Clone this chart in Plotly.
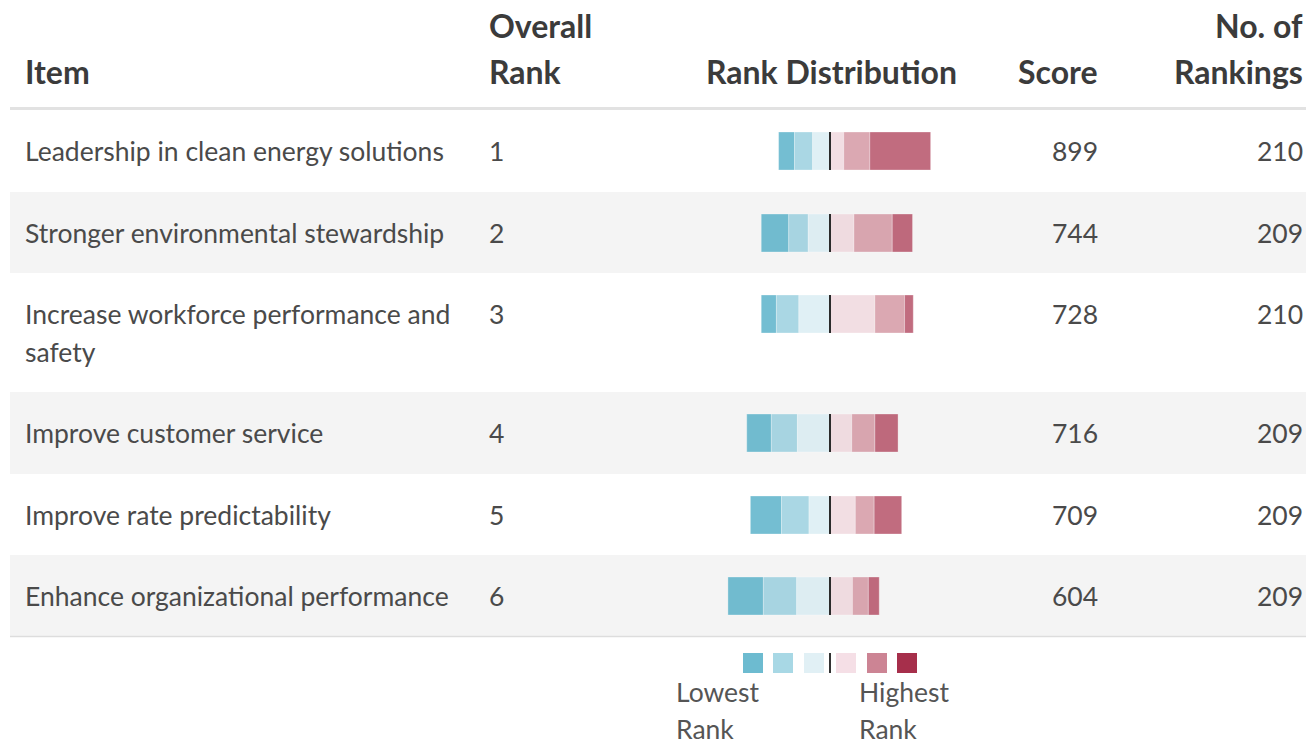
import plotly.graph_objects as go
import numpy as np

# ---------------- data ----------------
items = [
    ["Leadership in clean energy solutions"],
    ["Stronger environmental stewardship"],
    ["Increase workforce performance and", "safety"],
    ["Improve customer service"],
    ["Improve rate predictability"],
    ["Enhance organizational performance"],
]
overall_rank = [1, 2, 3, 4, 5, 6]
scores = [899, 744, 728, 716, 709, 604]
n_rankings = [210, 209, 210, 209, 209, 209]

# counts per rank level, from lowest rank to highest rank
rank_lowest = [22, 38, 21, 34, 43, 49]
rank_5th = [25, 27, 31, 36, 38, 46]
rank_4th = [24, 30, 43, 45, 29, 46]
rank_3rd = [19, 33, 62, 30, 35, 31]
rank_2nd = [36, 53, 41, 32, 26, 22]
rank_highest = [84, 28, 12, 32, 38, 15]

headers = {
    "item": ["Item"],
    "rank": ["Overall", "Rank"],
    "dist": ["Rank Distribution"],
    "score": ["Score"],
    "n": ["No. of", "Rankings"],
}
legend_low = ["Lowest", "Rank"]
legend_high = ["Highest", "Rank"]

# ---------------- layout constants ----------------
W, H = 1306, 744
CENTER_PX = 830.0
PX_PER_COUNT = 0.724
row_heights = [82, 81, 119, 82, 81, 81]
TABLE_TOP = 110
BAR_H = 38
FONT = "Lato, 'Open Sans', sans-serif"
BODY_COLOR = "#4a4a4a"
HEAD_COLOR = "#3b3b3b"
BODY_SIZE = 26.5
HEAD_SIZE = 32
PAD = 2  # annotation inner padding compensation

bar_colors = [
    "rgba(70,168,195,0.75)",
    "rgba(142,202,219,0.75)",
    "rgba(214,235,242,0.75)",
    "rgba(238,211,218,0.75)",
    "rgba(207,139,152,0.75)",
    "rgba(172,59,84,0.75)",
]
legend_colors = ["#6dbbd0", "#a8d8e5", "#e1f0f5", "#f5dfe6", "#cc8494", "#a62f4b"]

row_tops = TABLE_TOP + np.concatenate([[0], np.cumsum(row_heights)[:-1]])
row_bottoms = row_tops + np.array(row_heights)
row_centers = row_tops + 41

levels = np.array([rank_lowest, rank_5th, rank_4th, rank_3rd, rank_2nd, rank_highest], dtype=float)
left_total = levels[:3].sum(axis=0)
bases = -left_total + np.vstack([np.zeros(levels.shape[1]), np.cumsum(levels, axis=0)[:-1]])

fig = go.Figure()
for k in range(6):
    fig.add_trace(go.Bar(
        orientation="h",
        x=levels[k],
        base=bases[k],
        y=row_centers,
        width=BAR_H,
        marker=dict(color=bar_colors[k], line=dict(color="rgba(255,255,255,0.3)", width=1)),
        showlegend=False,
        hoverinfo="skip",
    ))

shapes = []
# row backgrounds
for i in range(len(items)):
    if i % 2 == 1:
        shapes.append(dict(type="rect", xref="paper", yref="y", x0=10 / W, x1=1, y0=row_tops[i], y1=row_bottoms[i],
                           fillcolor="#f4f4f4", line=dict(width=0), layer="below"))
# header line and bottom line
shapes.append(dict(type="line", xref="paper", yref="y", x0=10 / W, x1=1, y0=108.5, y1=108.5,
                   line=dict(color="#e2e2e2", width=3)))
shapes.append(dict(type="line", xref="paper", yref="y", x0=10 / W, x1=1, y0=636.5, y1=636.5,
                   line=dict(color="#dddddd", width=1.5)))
# center lines of bars
for c in row_centers:
    shapes.append(dict(type="line", xref="x", yref="y", x0=0, x1=0, y0=c - BAR_H / 2, y1=c + BAR_H / 2,
                       line=dict(color="#2b2b2b", width=2)))

# legend squares
leg_x = [743, 773, 804, 836, 867, 897]
for xx, col in zip(leg_x, legend_colors):
    shapes.append(dict(type="rect", xref="paper", yref="y", x0=xx / W, x1=(xx + 20) / W, y0=653, y1=673,
                       fillcolor=col, line=dict(width=0)))
shapes.append(dict(type="line", xref="paper", yref="y", x0=830 / W, x1=830 / W, y0=653, y1=673,
                   line=dict(color="#333333", width=2)))

ann = []


def txt(x, y, s, anchor="left", size=BODY_SIZE, color=BODY_COLOR, bold=False):
    x = x - PAD if anchor == "left" else x + PAD
    ann.append(dict(xref="paper", yref="y", x=x / W, y=y, text=("<b>%s</b>" % s) if bold else s,
                    showarrow=False, xanchor=anchor, yanchor="middle",
                    font=dict(family=FONT, size=size, color=color)))


# headers
txt(25, 71, headers["item"][0], bold=True, size=HEAD_SIZE, color=HEAD_COLOR)
txt(489, 25, headers["rank"][0], bold=True, size=HEAD_SIZE, color=HEAD_COLOR)
txt(489, 71, headers["rank"][1], bold=True, size=HEAD_SIZE, color=HEAD_COLOR)
txt(957, 71, headers["dist"][0], anchor="right", bold=True, size=HEAD_SIZE, color=HEAD_COLOR)
txt(1098, 71, headers["score"][0], anchor="right", bold=True, size=HEAD_SIZE, color=HEAD_COLOR)
txt(1303, 25, headers["n"][0], anchor="right", bold=True, size=HEAD_SIZE, color=HEAD_COLOR)
txt(1303, 71, headers["n"][1], anchor="right", bold=True, size=HEAD_SIZE, color=HEAD_COLOR)

# body rows
for i in range(len(items)):
    c = row_centers[i]
    for j, line in enumerate(items[i]):
        txt(25, c + j * 38, line)
    txt(489, c, str(overall_rank[i]))
    txt(1098, c, str(scores[i]), anchor="right")
    txt(1303, c, str(n_rankings[i]), anchor="right")

# legend labels
for j, s in enumerate(legend_low):
    txt(676, 692 + j * 37, s, color="#555555")
for j, s in enumerate(legend_high):
    txt(859, 692 + j * 37, s, color="#555555")

fig.update_layout(
    width=W, height=H,
    margin=dict(l=0, r=0, t=0, b=0),
    paper_bgcolor="white", plot_bgcolor="white",
    barmode="overlay",
    xaxis=dict(range=[-CENTER_PX / PX_PER_COUNT, (W - CENTER_PX) / PX_PER_COUNT], visible=False, fixedrange=True),
    yaxis=dict(range=[H, 0], visible=False, fixedrange=True),
    shapes=shapes,
    annotations=ann,
    showlegend=False,
)

fig.write_html(
    "out.html",
    config={"displayModeBar": False},
    post_script="document.body.style.margin='0';document.body.style.overflow='hidden';"
                "document.documentElement.style.overflow='hidden';",
)
